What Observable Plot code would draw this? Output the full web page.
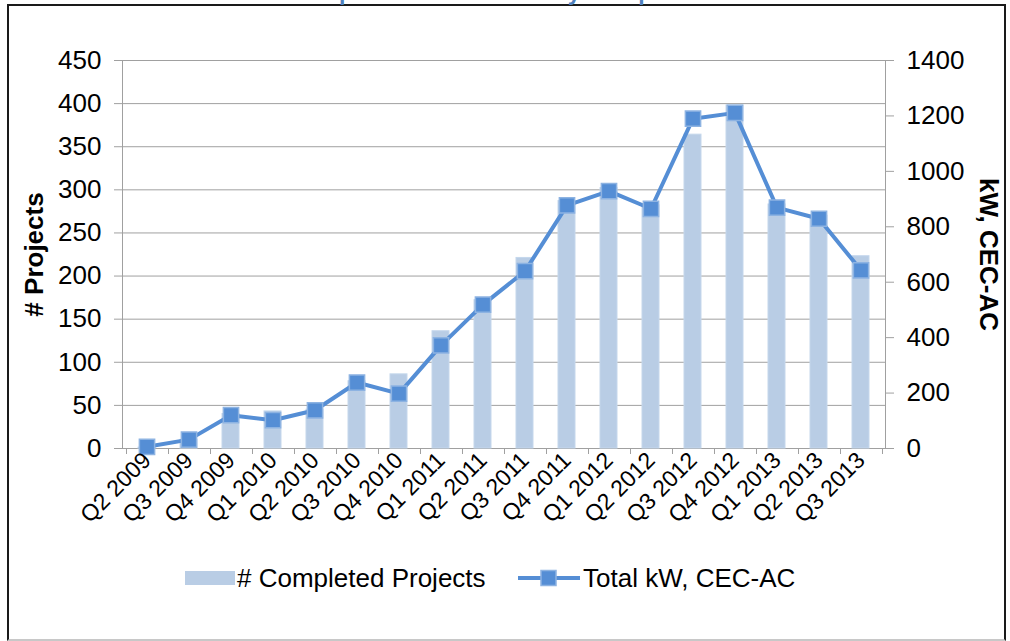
<!DOCTYPE html>
<html>
<head>
<meta charset="utf-8">
<script src="https://cdn.jsdelivr.net/npm/d3@7"></script>
<script src="https://cdn.jsdelivr.net/npm/@observablehq/plot@0.6"></script>
<style>
  html, body { margin: 0; padding: 0; background: #fff; }
  body { width: 1010px; height: 641px; position: relative; overflow: hidden; font-family: "Liberation Sans", Arial, sans-serif; }
  #box { position: absolute; left: 7px; top: 4px; width: 995px; height: 633px; border: 2px solid #1a1a1a; border-bottom-color: #c8c8c8; }
  #titleclip { position: absolute; left: 0; top: 0; width: 1010px; height: 5px; overflow: hidden; }
  #title { position: absolute; left: 288px; top: -20px; font-size: 23px; line-height: 24px; font-weight: bold; color: #4f81bd; white-space: nowrap; }
  #chart { position: absolute; left: 0; top: 0; }
  #legend { position: absolute; left: 0; top: 562px; width: 1010px; height: 32px; font-size: 26px; color: #000; }
  .lg { position: absolute; top: 0; height: 32px; display: flex; align-items: center; }
</style>
</head>
<body>
<div id="box"></div>
<div id="titleclip"><div id="title">Completed Installations by Completion Date</div></div>
<div id="chart"></div>
<div id="legend">
  <div class="lg" style="left:185px;">
    <svg width="52" height="32"><rect x="0" y="9" width="50" height="14" fill="#b9cde5"></rect></svg>
    <span># Completed Projects</span>
  </div>
  <div class="lg" style="left:517px;">
    <svg width="66" height="32"><line x1="1" y1="16" x2="63" y2="16" stroke="#558ed5" stroke-width="4"></line><rect x="24" y="8.5" width="15" height="15" fill="#558ed5" stroke="#8db3e2" stroke-width="1.5"></rect></svg>
    <span>Total kW, CEC-AC</span>
  </div>
</div>
<script>
const quarters = ["Q2 2009","Q3 2009","Q4 2009","Q1 2010","Q2 2010","Q3 2010","Q4 2010","Q1 2011","Q2 2011","Q3 2011","Q4 2011","Q1 2012","Q2 2012","Q3 2012","Q4 2012","Q1 2013","Q2 2013","Q3 2013"];
const completedProjects = [1, 10, 40, 43, 45, 78, 86, 136, 172, 221, 287, 302, 282, 364, 398, 283, 270, 223];
const totalKW = [6, 32, 120, 102, 138, 238, 198, 372, 519, 640, 877, 929, 865, 1190, 1211, 869, 829, 643];
const leftTicks = [0, 50, 100, 150, 200, 250, 300, 350, 400, 450];
const rightTicks = [0, 200, 400, 600, 800, 1000, 1200, 1400];

const leftMax = 450, rightMax = 1400;
const toLeft = k => k * leftMax / rightMax;

const data = quarters.map((q, i) => ({q, projects: completedProjects[i], kw: totalKW[i]}));

const padInner = 0.59, padOuter = padInner / 2;

function boundaryTicks(index, scales, values, dimensions) {
  const x = scales.x;
  const step = x(quarters[1]) - x(quarters[0]);
  const start = x(quarters[0]) - padOuter * step;
  const y0 = dimensions.height - dimensions.marginBottom;
  const g = d3.create("svg:g").attr("stroke", "#a0a0a0").attr("stroke-width", 1);
  for (let i = 0; i <= quarters.length; i++) {
    const xp = Math.round(start + i * step) + 0.5;
    g.append("line").attr("x1", xp).attr("x2", xp).attr("y1", y0).attr("y2", y0 + 6);
  }
  return g.node();
}

const chart = Plot.plot({
  width: 1010,
  height: 560,
  marginLeft: 122,
  marginRight: 125,
  marginTop: 60,
  marginBottom: 112,
  style: {fontFamily: "'Liberation Sans', Arial, sans-serif", color: "#000", background: "transparent", overflow: "visible"},
  x: {domain: quarters, paddingInner: padInner, paddingOuter: padOuter, label: null, axis: null},
  y: {domain: [0, leftMax], label: null, axis: null},
  marks: [
    Plot.gridY(leftTicks, {stroke: "#a0a0a0", strokeOpacity: 1}),
    Plot.frame({stroke: "#a0a0a0"}),
    Plot.barY(data, {x: "q", y: "projects", fill: "#b9cde5", stroke: "#c5d7ec", strokeWidth: 1}),
    Plot.line(data, {x: "q", y: d => toLeft(d.kw), stroke: "#558ed5", strokeWidth: 4}),
    Plot.dot(data, {x: "q", y: d => toLeft(d.kw), symbol: "square", r: 8.6, fill: "#558ed5", stroke: "#8db3e2", strokeWidth: 1.5}),
    boundaryTicks,
    Plot.axisY(leftTicks, {anchor: "left", tickSize: 8, tickPadding: 13, fontSize: 26, stroke: "#a0a0a0", fill: "#000", label: null}),
    Plot.axisY(rightTicks.map(toLeft), {anchor: "right", tickSize: 8, tickPadding: 13, fontSize: 26, stroke: "#a0a0a0", fill: "#000", label: null, tickFormat: d => String(Math.round(d * rightMax / leftMax))}),
    Plot.axisX({tickRotate: -45, tickSize: 0, tickPadding: 8, fontSize: 23, fill: "#000", label: null}),
    Plot.text(["# Projects"], {frameAnchor: "left", textAnchor: "middle", dx: -88, rotate: -90, fontSize: 26, fontWeight: "bold", fill: "#000"}),
    Plot.text(["kW, CEC-AC"], {frameAnchor: "right", textAnchor: "middle", dx: 103, rotate: 90, fontSize: 26, fontWeight: "bold", fill: "#000"})
  ]
});
document.getElementById("chart").appendChild(chart);
</script>
</body>
</html>
